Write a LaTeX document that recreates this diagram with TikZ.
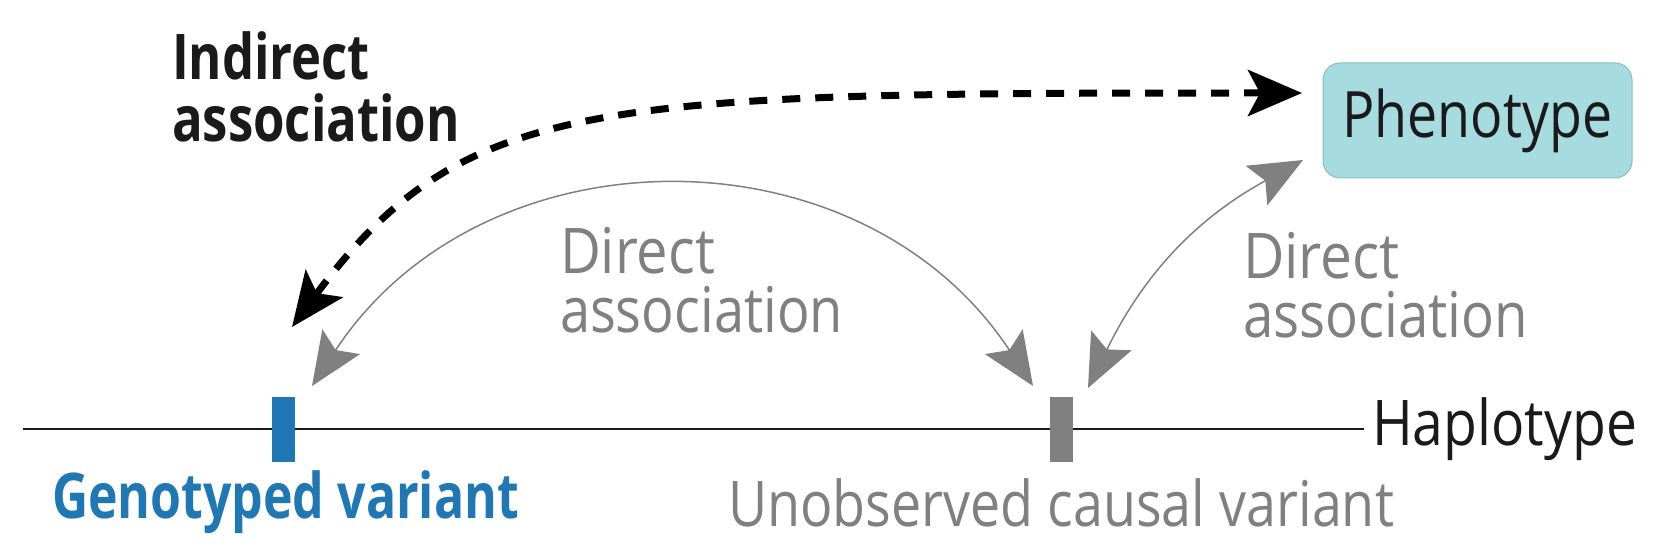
\documentclass[tikz,border=0pt]{standalone}
\usepackage{fontspec}
\setmainfont{Open Sans}
\usetikzlibrary{arrows.meta,calc}
\definecolor{gblue}{RGB}{31,120,180}
\definecolor{ggray}{RGB}{128,128,128}
\definecolor{tblack}{RGB}{26,26,26}
\definecolor{phfill}{RGB}{166,219,224}
\definecolor{phdraw}{RGB}{140,190,196}
\newcommand{\fitw}[2]{\resizebox{#1}{\height}{#2}}
\begin{document}
\begin{tikzpicture}[x=1pt,y=-1pt,
  lbl/.style={inner sep=0pt, outer sep=0pt, anchor=base west, font=\fontsize{63}{63}\selectfont},
  boldlbl/.style={lbl, font=\fontsize{63}{63}\selectfont\bfseries},
  varbar/.style={inner sep=0pt, minimum width=23pt, minimum height=65pt},
  directarrow/.style={draw=ggray, line width=1.5pt, {Stealth[length=53pt,width=45pt,inset=10pt]}-{Stealth[length=53pt,width=45pt,inset=10pt]}},
  indirectarrow/.style={draw=black, line width=7pt, dash pattern=on 18pt off 15pt, {Stealth[length=54pt,width=46pt,inset=12pt]}-{Stealth[length=54pt,width=46pt,inset=12pt]}}
]
\useasboundingbox (0,0) rectangle (1657,548);

% labels
\node[boldlbl, text=tblack] (ind1) at (172,80) {\fitw{198pt}{Indirect}};
\node[boldlbl, text=tblack] (ind2) at (172,142) {\fitw{288pt}{association}};
\node[lbl, text=ggray] (dA1) at (560,273) {\fitw{155pt}{Direct}};
\node[lbl, text=ggray] (dA2) at (560,332) {\fitw{283pt}{association}};
\node[lbl, text=ggray] (dB1) at (1243,278) {\fitw{157pt}{Direct}};
\node[lbl, text=ggray] (dB2) at (1243,337) {\fitw{285pt}{association}};
\node[lbl, text=tblack] (hap) at (1372,445) {\fitw{265pt}{Haplotype}};
\node[boldlbl, text=gblue] (gtxt) at (52,518) {\fitw{467pt}{Genotyped variant}};
\node[lbl, text=ggray] (utxt) at (728,526) {\fitw{666pt}{Unobserved causal variant}};

% phenotype box
\node[draw=phdraw, line width=1pt, fill=phfill, rounded corners=17pt,
      minimum width=309pt, minimum height=115pt, inner sep=0pt,
      font=\fontsize{64}{64}\selectfont, text=tblack] (phen) at (1477.5,120.5) {\fitw{270pt}{Phenotype}};

% haplotype line
\coordinate (hstart) at (23,429);
\draw[line width=1.5pt, tblack, shorten >=8pt] (hstart) -- (hstart -| hap.west);

% variant bars
\node[varbar, fill=gblue] (gbar) at (283.5,429.5) {};
\node[varbar, fill=ggray] (ubar) at (1061.5,429.5) {};

% arrow end points
\coordinate (gA) at (312,386);
\coordinate (gB) at (292,327);
\coordinate (uA) at (1033,386);
\coordinate (uB) at (1088,388);
\coordinate (pA) at (1302,93);
\coordinate (pB) at (1303,160);

% direct associations
\draw[directarrow] (gA) .. controls (484,125) and (861,125) .. (uA);
\draw[directarrow] (uB) .. controls (1143,276) and (1194,220) .. (pB);

% indirect association
\draw[indirectarrow] (pA) .. controls (600,93) and (464,95) .. (gB);
\end{tikzpicture}
\end{document}
